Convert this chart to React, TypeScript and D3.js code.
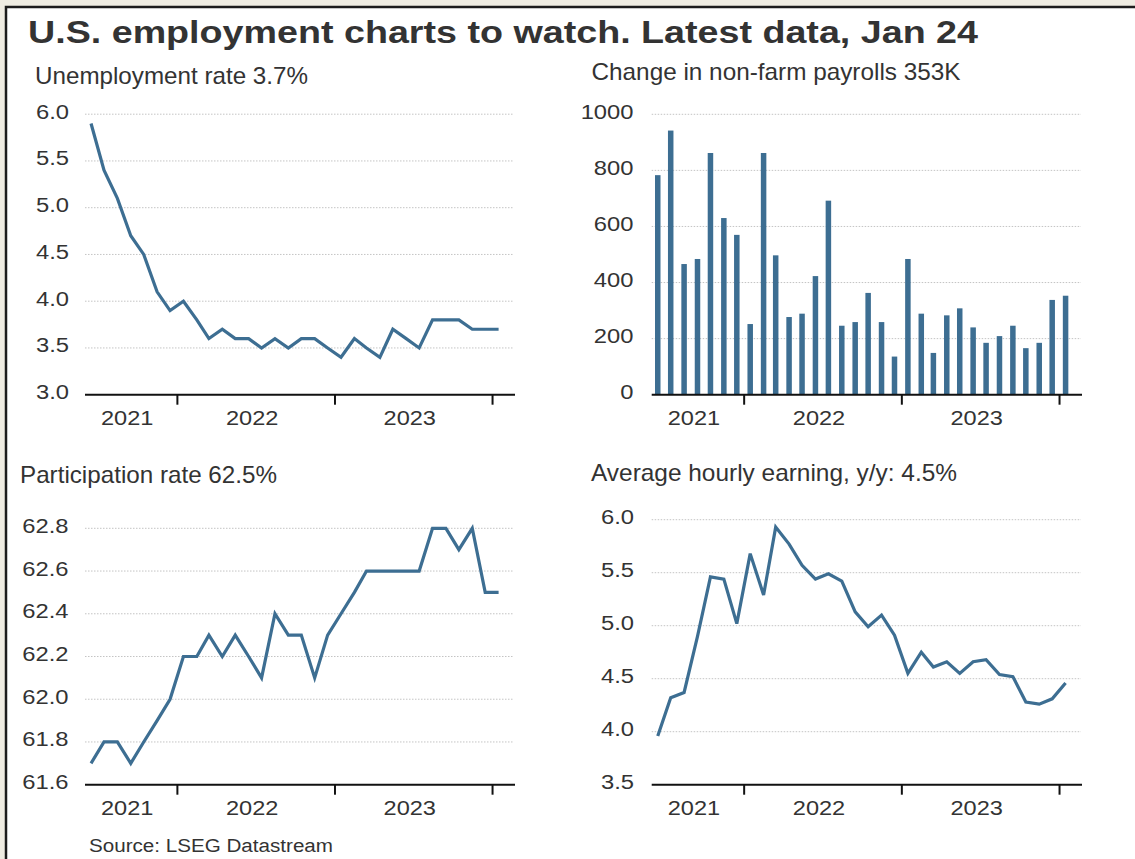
import React from "react";
import * as d3 from "d3";

const titleText = "U.S. employment charts to watch. Latest data, Jan 24";
const sourceText = "Source: LSEG Datastream";

const panelTitles = [
  "Unemployment rate 3.7%",
  "Change in non-farm payrolls 353K",
  "Participation rate 62.5%",
  "Average hourly earning, y/y: 4.5%",
];

const yearLabels = ["2021", "2022", "2023"];
const yearTickDates = [new Date(2022, 0, 1), new Date(2023, 0, 1), new Date(2024, 0, 1)];

// Monthly observations, Jun 2021 .. Jan 2024 (plotted mid-month)
const months = d3
  .timeMonth.range(new Date(2021, 5, 1), new Date(2024, 1, 1))
  .map((d) => d3.timeDay.offset(d, 14));

const unemployment = [
  5.9, 5.4, 5.1, 4.7, 4.5, 4.1, 3.9, 4.0, 3.8, 3.6, 3.7, 3.6, 3.6, 3.5, 3.6, 3.5,
  3.6, 3.6, 3.5, 3.4, 3.6, 3.5, 3.4, 3.7, 3.6, 3.5, 3.8, 3.8, 3.8, 3.7, 3.7, 3.7,
];

const payrolls = [
  783, 942, 466, 484, 862, 630, 570, 252, 862, 497, 277, 289, 423, 692, 246, 259,
  363, 259, 136, 484, 289, 149, 283, 308, 240, 185, 209, 246, 166, 185, 338, 353,
];

const participation = [
  61.7, 61.8, 61.8, 61.7, 61.8, 61.9, 62.0, 62.2, 62.2, 62.3, 62.2, 62.3, 62.2, 62.1, 62.4, 62.3,
  62.3, 62.1, 62.3, 62.4, 62.5, 62.6, 62.6, 62.6, 62.6, 62.6, 62.8, 62.8, 62.7, 62.8, 62.5, 62.5,
];

const earnings = [
  3.96, 4.32, 4.37, 4.9, 5.46, 5.44, 5.02, 5.68, 5.29, 5.93, 5.77, 5.57, 5.44, 5.49, 5.42, 5.13,
  4.99, 5.1, 4.91, 4.55, 4.75, 4.61, 4.66, 4.55, 4.66, 4.68, 4.54, 4.52, 4.28, 4.26, 4.31, 4.46,
];

const unempTicks = [3.0, 3.5, 4.0, 4.5, 5.0, 5.5, 6.0];
const payrollTicks = [0, 200, 400, 600, 800, 1000];
const partTicks = [61.6, 61.8, 62.0, 62.2, 62.4, 62.6, 62.8];
const earnTicks = [3.5, 4.0, 4.5, 5.0, 5.5, 6.0];

const BLUE = "#3d6e92";
const TEXT = "#333333";
const FONT = "'Liberation Sans', Arial, Helvetica, sans-serif";
const timeDomain = [new Date(2021, 5, 1), new Date(2024, 1, 22)];

type PanelProps = {
  title: string;
  titleX: number;
  titleY: number;
  titleLen: number;
  x0: number;
  x1: number;
  yBottom: number;
  yTop: number;
  ticks: number[];
  fmt: (v: number) => string;
  labelRight: number;
  yearY: number;
  kind: "line" | "bar";
  values: number[];
};

function Panel(p: PanelProps) {
  const x = d3.scaleTime().domain(timeDomain).range([p.x0, p.x1]);
  const y = d3
    .scaleLinear()
    .domain([p.ticks[0], p.ticks[p.ticks.length - 1]])
    .range([p.yBottom, p.yTop]);
  const line = d3
    .line<number>()
    .x((_, i) => x(months[i]))
    .y((v) => y(v));
  const tickXs = yearTickDates.map((d) => x(d));
  const bounds = [p.x0, ...tickXs];
  const barW = 5.5;
  return (
    <g>
      <text
        x={p.titleX}
        y={p.titleY}
        fontSize={24}
        fill={TEXT}
        textLength={p.titleLen}
        lengthAdjust="spacingAndGlyphs"
      >
        {p.title}
      </text>
      {p.ticks.map((t, i) => (
        <g key={i}>
          {i > 0 && (
            <line
              x1={p.x0}
              x2={p.x1 - 1}
              y1={y(t)}
              y2={y(t)}
              stroke="#c4c4c4"
              strokeWidth={1}
              strokeDasharray="1.5,1.5"
            />
          )}
          <text
            transform={`translate(${p.labelRight},${y(t) + 4.5}) scale(1.16,1)`}
            textAnchor="end"
            fontSize={20.5}
            fill={TEXT}
          >
            {p.fmt(t)}
          </text>
        </g>
      ))}
      {p.kind === "bar" &&
        p.values.map((v, i) => (
          <rect
            key={i}
            x={x(months[i]) - barW / 2}
            y={y(v)}
            width={barW}
            height={y(0) - y(v)}
            fill={BLUE}
          />
        ))}
      {p.kind === "line" && (
        <path d={line(p.values) || ""} fill="none" stroke={BLUE} strokeWidth={3.2} strokeLinejoin="miter" />
      )}
      <line x1={p.x0} x2={p.x1} y1={p.yBottom} y2={p.yBottom} stroke="#111" strokeWidth={2} />
      {tickXs.map((tx, i) => (
        <line key={i} x1={tx} x2={tx} y1={p.yBottom} y2={p.yBottom + 10} stroke="#111" strokeWidth={2} />
      ))}
      {yearLabels.map((lab, i) => (
        <text
          key={lab}
          transform={`translate(${(bounds[i] + bounds[i + 1]) / 2 - 4},${p.yearY}) scale(1.15,1)`}
          textAnchor="middle"
          fontSize={20.5}
          fill={TEXT}
        >
          {lab}
        </text>
      ))}
    </g>
  );
}

export default function App() {
  const f1 = (v: number) => v.toFixed(1);
  const f0 = (v: number) => String(v);
  return (
    <svg
      width={1135}
      height={859}
      style={{ position: "absolute", left: 0, top: 0, fontFamily: FONT }}
    >
      <rect x={0} y={0} width={1135} height={859} fill="#efece2" />
      <rect x={6} y={7} width={1200} height={900} fill="#ffffff" stroke="#1c1c1c" strokeWidth={2.5} />
      <text
        x={28}
        y={43}
        fontSize={32}
        fontWeight="bold"
        fill={TEXT}
        textLength={950}
        lengthAdjust="spacingAndGlyphs"
      >
        {titleText}
      </text>
      <Panel
        title={panelTitles[0]}
        titleX={35}
        titleY={84}
        titleLen={273}
        x0={85}
        x1={515}
        yBottom={394.7}
        yTop={114.2}
        ticks={unempTicks}
        fmt={f1}
        labelRight={69}
        yearY={425}
        kind="line"
        values={unemployment}
      />
      <Panel
        title={panelTitles[1]}
        titleX={591.5}
        titleY={80}
        titleLen={369}
        x0={651.7}
        x1={1082}
        yBottom={394.7}
        yTop={114.3}
        ticks={payrollTicks}
        fmt={f0}
        labelRight={633.5}
        yearY={425}
        kind="bar"
        values={payrolls}
      />
      <Panel
        title={panelTitles[2]}
        titleX={20}
        titleY={483}
        titleLen={257}
        x0={85}
        x1={515}
        yBottom={784.7}
        yTop={528.3}
        ticks={partTicks}
        fmt={f1}
        labelRight={68.5}
        yearY={815}
        kind="line"
        values={participation}
      />
      <Panel
        title={panelTitles[3]}
        titleX={591}
        titleY={481}
        titleLen={366}
        x0={651.7}
        x1={1082}
        yBottom={784.7}
        yTop={519.7}
        ticks={earnTicks}
        fmt={f1}
        labelRight={634}
        yearY={815}
        kind="line"
        values={earnings}
      />
      <text
        x={89}
        y={852}
        fontSize={18}
        fill={TEXT}
        textLength={244}
        lengthAdjust="spacingAndGlyphs"
      >
        {sourceText}
      </text>
    </svg>
  );
}
